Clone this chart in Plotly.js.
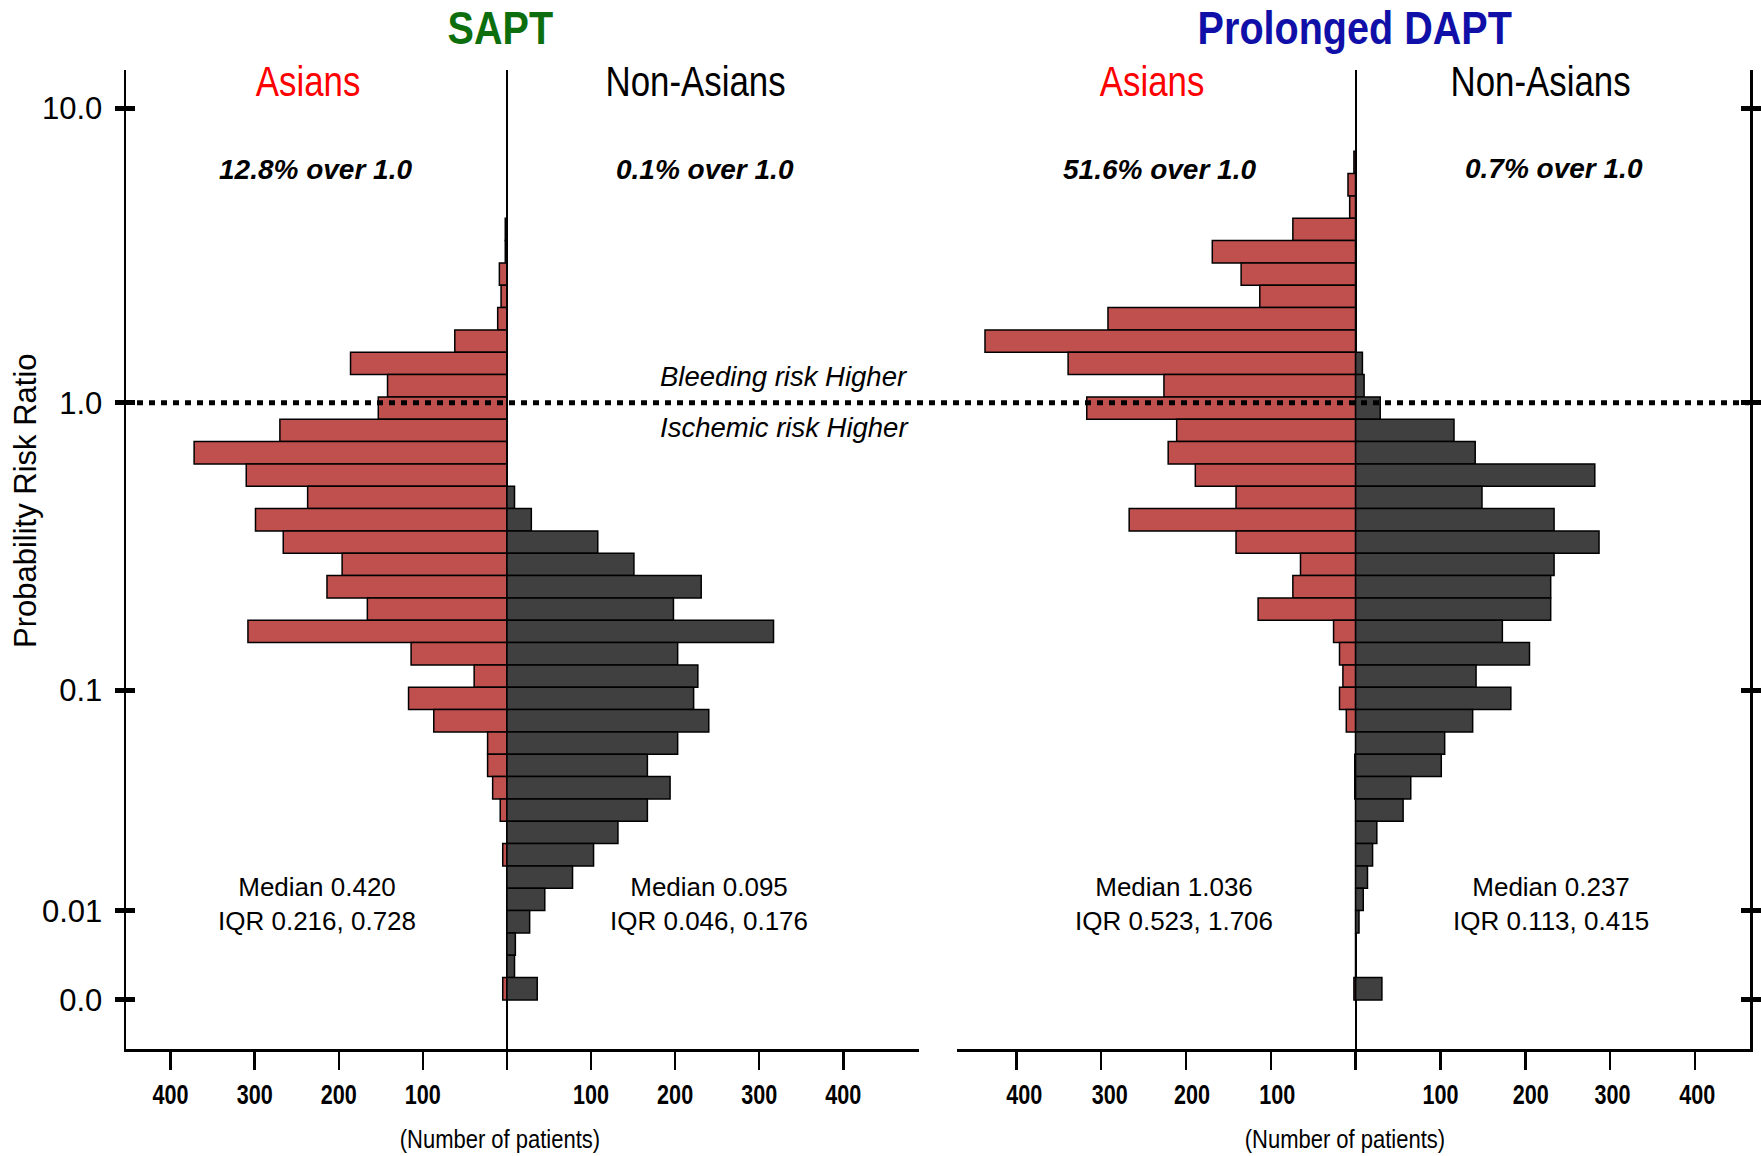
<!DOCTYPE html>
<html>
<head>
<meta charset="utf-8">
<script src="https://cdn.plot.ly/plotly-3.0.1.min.js"></script>
<style>html,body{margin:0;padding:0;background:#fff;}#chart{width:1761px;height:1156px;}</style>
</head>
<body>
<div id="chart"></div>
<script>
// Bins listed from top (highest risk ratio) to bottom (0.0)
const binCount = 38;
const sapt_asians    = [0,0,0, 2,2,9,7,11,62,186,142,153,270,372,310,237,299,266,196,214,166,308,114,39,117,87,23,23,17,8,0,5,0,0,0,0,0,5];
const sapt_nonasians = [0,0,0, 0,0,0,0,0,0,0,0,0,0,0,0,9,29,108,151,231,198,317,203,227,222,240,203,167,194,167,132,103,78,45,27,10,9,36];
const dapt_asians    = [2,9,7, 74,169,135,113,292,437,339,226,317,211,221,189,141,267,141,65,74,115,26,19,15,19,11,0,1,1,0,0,0,0,0,0,0,0,2];
const dapt_nonasians = [0,0,0, 0,0,0,0,0,0,8,10,29,116,141,282,149,234,287,234,230,230,173,205,142,183,138,105,101,65,56,25,20,14,9,4,0,0,31];

// Y-axis tick labels (risk ratio) and their positions on the bin axis
const yTickText = ['0.0','0.01','0.1','1.0','10.0'];
const yTickPos  = [0, 3.99, 13.87, 26.74, 39.92];
const refLine = 26.74; // risk ratio 1.0

const xTickVals = [-400,-300,-200,-100,0,100,200,300,400];
const xTickText = ['400','300','200','100','','100','200','300','400'];

// bin centre positions (top bin highest)
const binPos = sapt_asians.map((_, i) => binCount - 1 - i + 0.5);

const W = 1761, H = 1156, T = 70, B = 107, PH = H - T - B;
const px = x => x / W;
const py = y => (H - B - y) / PH;
const yRange = [-2.198, 41.637];

const RED = '#c0504d', DARK = '#404040';
const NARROW = '"Liberation Sans Narrow", "Arial Narrow", "Liberation Sans", Arial, sans-serif';
const SANS = '"Liberation Sans", Arial, sans-serif';

function barTrace(vals, neg, color, xa, ya) {
  return {
    type: 'bar', orientation: 'h',
    x: vals.map(v => neg ? -v : v), y: binPos, width: 1,
    marker: {color: color, line: {color: '#000', width: 1.5}},
    xaxis: xa, yaxis: ya, hoverinfo: 'skip'
  };
}

const data = [
  barTrace(sapt_asians, true, RED, 'x', 'y'),
  barTrace(sapt_nonasians, false, DARK, 'x', 'y'),
  barTrace(dapt_asians, true, RED, 'x2', 'y2'),
  barTrace(dapt_nonasians, false, DARK, 'x2', 'y2'),
  {type:'scatter', x:[], y:[], xaxis:'x', yaxis:'y3', showlegend:false},
  {type:'scatter', x:[], y:[], xaxis:'x2', yaxis:'y4', showlegend:false}
];

const xAxisCommon = {
  tickvals: xTickVals, ticktext: xTickText, ticks: 'outside', ticklen: 18, tickwidth: 2.5,
  tickcolor: '#000', showline: true, linewidth: 2.5, linecolor: '#000',
  zeroline: true, zerolinecolor: '#000', zerolinewidth: 2, showgrid: false,
  tickfont: {family: NARROW, size: 27, color: '#000', weight: 'bold'},
  ticklabelstandoff: 2, fixedrange: true
};
const yAxisCommon = {
  range: yRange, tickvals: yTickPos, ticktext: yTickText, ticklen: 9, tickwidth: 5,
  tickcolor: '#000', showline: true, linewidth: 2.5, linecolor: '#000',
  zeroline: false, showgrid: false, fixedrange: true
};

const layout = {
  width: W, height: H,
  margin: {l: 0, r: 0, t: T, b: B},
  paper_bgcolor: '#fff', plot_bgcolor: 'rgba(0,0,0,0)',
  showlegend: false, barmode: 'overlay',
  xaxis: Object.assign({}, xAxisCommon, {domain: [126/W, 919/W], range: [-453, 490], anchor: 'y'}),
  xaxis2: Object.assign({}, xAxisCommon, {domain: [957/W, 1750/W], range: [-470, 465], anchor: 'y2'}),
  yaxis: Object.assign({}, yAxisCommon, {anchor: 'x', side: 'left', ticks: 'outside',
    tickfont: {family: SANS, size: 31, color: '#000'}, ticklabelstandoff: 6}),
  yaxis3: Object.assign({}, yAxisCommon, {anchor: 'x', side: 'left', overlaying: 'y', ticks: 'inside', showticklabels: false}),
  yaxis2: Object.assign({}, yAxisCommon, {anchor: 'x2', side: 'right', ticks: 'outside', showticklabels: false}),
  yaxis4: Object.assign({}, yAxisCommon, {anchor: 'x2', side: 'right', overlaying: 'y2', ticks: 'inside', showticklabels: false}),
  shapes: [
    {type: 'line', xref: 'paper', yref: 'y', x0: 137/W, x1: 1749/W, y0: refLine, y1: refLine,
     line: {color: '#000', width: 5, dash: '6px,6px'}}
  ],
  annotations: []
};

const narrowScale = {}; // annotation index -> horizontal condensing factor
function ann(text, x, y, font, extra, squeeze) {
  if (squeeze) narrowScale[layout.annotations.length] = squeeze;
  layout.annotations.push(Object.assign({
    text: text, xref: 'paper', yref: 'paper', x: px(x), y: py(y),
    xanchor: 'center', yanchor: 'middle', showarrow: false, font: font
  }, extra || {}));
}

ann('<b>SAPT</b>', 500, 28, {family: NARROW, size: 46, color: '#0d6e0d'}, null, 0.86);
ann('<b>Prolonged DAPT</b>', 1354, 28, {family: NARROW, size: 46, color: '#1010a8'}, null, 0.86);
ann('Asians', 308, 82, {family: NARROW, size: 42, color: '#ff0000'}, null, 0.83);
ann('Non-Asians', 695, 82, {family: NARROW, size: 42, color: '#000'}, null, 0.83);
ann('Asians', 1152, 82, {family: NARROW, size: 42, color: '#ff0000'}, null, 0.83);
ann('Non-Asians', 1540, 82, {family: NARROW, size: 42, color: '#000'}, null, 0.83);
ann('<b><i>12.8% over 1.0</i></b>', 315, 170, {family: SANS, size: 28, color: '#000'});
ann('<b><i>0.1% over 1.0</i></b>', 705, 170, {family: SANS, size: 28, color: '#000'});
ann('<b><i>51.6% over 1.0</i></b>', 1159, 170, {family: SANS, size: 28, color: '#000'});
ann('<b><i>0.7% over 1.0</i></b>', 1554, 168, {family: SANS, size: 28, color: '#000'});
ann('<i>Bleeding risk Higher</i>', 784, 376, {family: SANS, size: 27.5, color: '#000'});
ann('<i>Ischemic risk Higher</i>', 784, 428, {family: SANS, size: 27.5, color: '#000'});
ann('Median 0.420<br>IQR 0.216, 0.728', 317, 904, {family: SANS, size: 26, color: '#000'});
ann('Median 0.095<br>IQR 0.046, 0.176', 709, 904, {family: SANS, size: 26, color: '#000'});
ann('Median 1.036<br>IQR 0.523, 1.706', 1174, 904, {family: SANS, size: 26, color: '#000'});
ann('Median 0.237<br>IQR 0.113, 0.415', 1551, 904, {family: SANS, size: 26, color: '#000'});
ann('(Number of patients)', 500, 1139, {family: NARROW, size: 25, color: '#000'}, null, 0.88);
ann('(Number of patients)', 1345, 1139, {family: NARROW, size: 25, color: '#000'}, null, 0.88);
ann('Probability Risk Ratio', 25, 501, {family: SANS, size: 31, color: '#000'}, {textangle: -90});

// small label offsets seen on the right panel's count axis (px)
const x2LabelShift = [8, 8.5, 6, 6.5, 0, 5.5, 2.5, 2.5, 0];

function squeezeText(el, s, dx) {
  const bb = el.getBBox();
  const cx = bb.x + bb.width / 2;
  const prev = el.getAttribute('transform') || '';
  el.setAttribute('transform', prev + ' translate(' + (cx + (dx || 0)) + ',0) scale(' + s + ',1) translate(' + (-cx) + ',0)');
}

Plotly.newPlot('chart', data, layout, {displayModeBar: false, staticPlot: true}).then(gd => {
  // condensed lettering (no narrow face installed): squeeze horizontally, keep as real text
  Object.keys(narrowScale).forEach(i => {
    const t = gd.querySelector('.annotation[data-index="' + i + '"] text.annotation-text');
    if (t) squeezeText(t, narrowScale[i]);
  });
  gd.querySelectorAll('.xtick text').forEach(t => squeezeText(t, 0.8));
  gd.querySelectorAll('.x2tick text').forEach((t, i) => squeezeText(t, 0.8, x2LabelShift[i] || 0));
});
</script>
</body>
</html>
